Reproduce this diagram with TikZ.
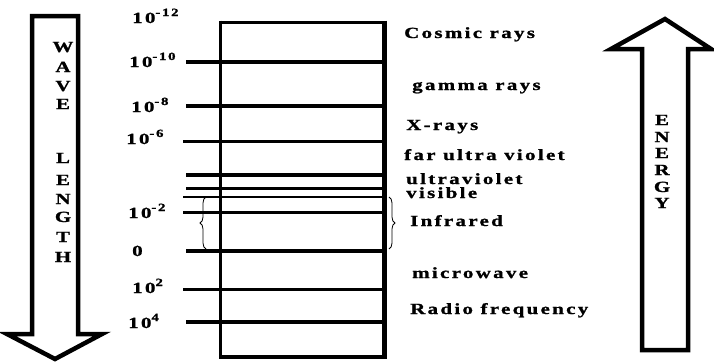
\documentclass[tikz,border=0pt]{standalone}
\usepackage{fontspec}
\usetikzlibrary{decorations.pathreplacing}
\newfontfamily\labfont{Liberation Serif}[FakeStretch=1.35,LetterSpace=15,FakeBold=1.2]
\newcommand\labtext{\labfont\bfseries\fontsize{15.5}{17}\selectfont}
\newcommand\tenp[1]{10\raisebox{7pt}{\fontsize{11}{11}\selectfont #1}}
\tikzset{
  lbl/.style={anchor=base west, inner sep=0pt, font=\labtext},
  vlet/.style={anchor=base, inner sep=0pt, font=\labtext},
  bigarrow/.style={line width=4.5pt, miter limit=10},
  thickl/.style={line width=4pt},
  medl/.style={line width=3pt},
  thinl/.style={line width=2pt},
  bracestyle/.style={line width=0.8pt, decorate, decoration={brace, amplitude=6pt}}
}
\begin{document}
\begin{tikzpicture}[x=1pt,y=-1pt]
\useasboundingbox (0,0) rectangle (714,362);
% left arrow (wavelength, pointing down)
\draw[bigarrow] (32,16) -- (78,16) -- (78,334) -- (102,334) -- (55,359) -- (7,334) -- (32,334) -- cycle;
% right arrow (energy, pointing up)
\draw[bigarrow] (642,350) -- (688,350) -- (688,49) -- (711,49) -- (665,19) -- (611,49) -- (642,49) -- cycle;
% rectangle
\draw[line width=3pt] (220,22) -- (384,22);
\draw[line width=4pt] (220,357) -- (384,357);
\draw[line width=3pt] (220,20.5) -- (220,358.5);
\draw[line width=5pt] (384,20.5) -- (384,359);
% horizontal lines
\coordinate (e) at (384,0);
\draw[thickl] (186,62) -- (e |- 0,62);
\draw[thickl] (186,106) -- (e |- 0,106);
\draw[medl] (183,141) -- (e |- 0,141);
\draw[thickl] (186,175) -- (e |- 0,175);
\draw[medl] (186,188) -- (e |- 0,188);
\draw[thinl] (183,197) -- (e |- 0,197);
\draw[medl] (183,212) -- (e |- 0,212);
\draw[thickl] (186,251) -- (e |- 0,251);
\draw[medl] (183,289) -- (e |- 0,289);
\draw[thickl] (186,322) -- (e |- 0,322);
% braces
\coordinate (lb1) at (206,249);
\coordinate (lb2) at (206,197);
\coordinate (rb1) at (389,197);
\coordinate (rb2) at (389,249);
\draw[bracestyle] (lb1) -- (lb2);
\draw[bracestyle] (rb1) -- (rb2);
% wavelength labels
\node[lbl] (n12) at (132,23) {\tenp{-12}};
\node[lbl] (n10) at (129,67) {\tenp{-10}};
\node[lbl] (n8) at (131,112) {\tenp{-8}};
\node[lbl] (n6) at (126,144) {\tenp{-6}};
\node[lbl] (n2) at (128,218) {\tenp{-2}};
\node[lbl] (n0) at (132,256) {0};
\node[lbl] (p2) at (132,293) {\tenp{2}};
\node[lbl] (p4) at (128,328) {\tenp{4}};
% region labels
\node[lbl] (cos) at (404,38) {Cosmic rays};
\node[lbl] (gam) at (412,90) {gamma rays};
\node[lbl] (xr) at (406,130) {X-rays};
\node[lbl] (fuv) at (404,160) {far ultra violet};
\node[lbl] (uv) at (406,184) {ultraviolet};
\node[lbl] (vis) at (406,198) {visible};
\node[lbl] (ir) at (410,226) {Infrared};
\node[lbl] (mw) at (412,278) {microwave};
\node[lbl] (rf) at (410,314) {Radio frequency};
% WAVE LENGTH
\foreach \ch/\yy [count=\i] in {W/52,A/72,V/91,E/109,L/163,E/185,N/204,G/222,T/242,H/262}
  \node[vlet] (wl\i) at (63,\yy) {\ch};
% ENERGY
\foreach \ch/\yy [count=\i] in {E/125,N/142,E/158,R/175,G/192,Y/208}
  \node[vlet] (en\i) at (662,\yy) {\ch};
\end{tikzpicture}
\end{document}
